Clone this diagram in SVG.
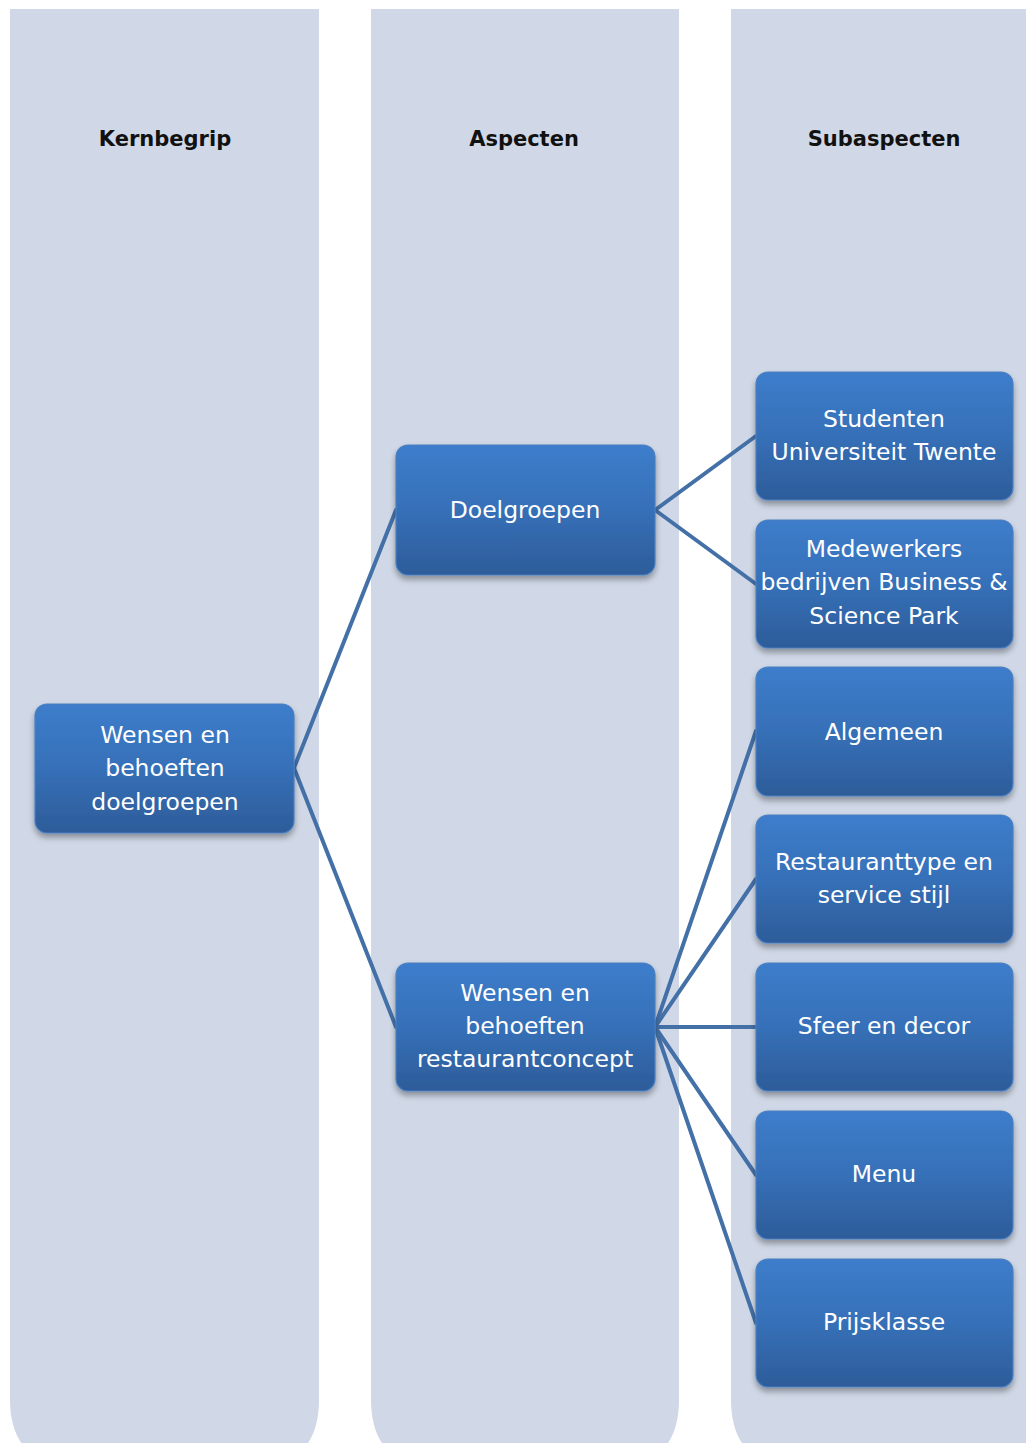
<svg xmlns="http://www.w3.org/2000/svg" width="1026" height="1443" viewBox="0 0 1026 1443">
  <style>
    .lane { fill: #d0d8e7; }
    .head { font-family: "DejaVu Sans", "Liberation Sans", sans-serif; font-size: 21px; font-weight: bold; fill: #111111; text-anchor: middle; }
    .box { fill: url(#boxFill); stroke: #4a7fc0; stroke-width: 1.2; filter: url(#drop); }
    .label { font-family: "DejaVu Sans", "Liberation Sans", sans-serif; font-size: 23.5px; fill: #ffffff; text-anchor: middle; }
    .link { stroke: #4470a8; stroke-width: 4; fill: none; stroke-linecap: round; }
  </style>
  <defs>
    <linearGradient id="boxFill" x1="0" y1="0" x2="0" y2="1">
      <stop offset="0" stop-color="#3d7dcb"/>
      <stop offset="0.5" stop-color="#3670b8"/>
      <stop offset="1" stop-color="#2d5c99"/>
    </linearGradient>
    <filter id="drop" x="-10%" y="-10%" width="120%" height="130%">
      <feGaussianBlur in="SourceAlpha" stdDeviation="3"/>
      <feOffset dx="0" dy="4"/>
      <feComponentTransfer><feFuncA type="linear" slope="0.35"/></feComponentTransfer>
      <feMerge><feMergeNode/><feMergeNode in="SourceGraphic"/></feMerge>
    </filter>
  </defs>

  <rect width="1026" height="1443" fill="#ffffff"/>

  <!-- swim lanes -->
  <g id="lanes">
    <path class="lane" d="M10 9 H319 V1400 Q319 1443 290 1460 H40 Q10 1443 10 1400 Z"/>
    <path class="lane" d="M371 9 H679 V1400 Q679 1443 650 1460 H400 Q371 1443 371 1400 Z"/>
    <path class="lane" d="M731 9 H1026 V1460 H760 Q731 1443 731 1400 Z"/>
    <text class="head" x="165" y="146">Kernbegrip</text>
    <text class="head" x="524" y="146">Aspecten</text>
    <text class="head" x="884" y="146">Subaspecten</text>
  </g>

  <!-- connectors -->
  <g id="connectors">
    <line class="link" x1="294" y1="768" x2="396" y2="510"/>
    <line class="link" x1="294" y1="768" x2="396" y2="1027"/>
    <line class="link" x1="655" y1="510" x2="756" y2="436"/>
    <line class="link" x1="655" y1="510" x2="756" y2="584"/>
    <line class="link" x1="655" y1="1027" x2="756" y2="731"/>
    <line class="link" x1="655" y1="1027" x2="756" y2="879"/>
    <line class="link" x1="655" y1="1027" x2="756" y2="1027"/>
    <line class="link" x1="655" y1="1027" x2="756" y2="1175"/>
    <line class="link" x1="655" y1="1027" x2="756" y2="1323"/>
  </g>

  <!-- nodes -->
  <g id="node-root">
    <rect class="box" x="35" y="704" width="259" height="129" rx="12"/>
    <text class="label" x="165" y="743">Wensen en</text>
    <text class="label" x="165" y="776">behoeften</text>
    <text class="label" x="165" y="810">doelgroepen</text>
  </g>
  <g id="node-doelgroepen">
    <rect class="box" x="396" y="445" width="259" height="130" rx="12"/>
    <text class="label" x="525" y="518">Doelgroepen</text>
  </g>
  <g id="node-restaurantconcept">
    <rect class="box" x="396" y="963" width="259" height="128" rx="12"/>
    <text class="label" x="525" y="1001">Wensen en</text>
    <text class="label" x="525" y="1034">behoeften</text>
    <text class="label" x="525" y="1067">restaurantconcept</text>
  </g>
  <g id="node-studenten">
    <rect class="box" x="756" y="372" width="257" height="128" rx="12"/>
    <text class="label" x="884" y="427">Studenten</text>
    <text class="label" x="884" y="460">Universiteit Twente</text>
  </g>
  <g id="node-medewerkers">
    <rect class="box" x="756" y="520" width="257" height="128" rx="12"/>
    <text class="label" x="884" y="557">Medewerkers</text>
    <text class="label" x="884" y="590">bedrijven Business &amp;</text>
    <text class="label" x="884" y="624">Science Park</text>
  </g>
  <g id="node-algemeen">
    <rect class="box" x="756" y="667" width="257" height="129" rx="12"/>
    <text class="label" x="884" y="740">Algemeen</text>
  </g>
  <g id="node-restauranttype">
    <rect class="box" x="756" y="815" width="257" height="128" rx="12"/>
    <text class="label" x="884" y="870">Restauranttype en</text>
    <text class="label" x="884" y="903">service stijl</text>
  </g>
  <g id="node-sfeer">
    <rect class="box" x="756" y="963" width="257" height="128" rx="12"/>
    <text class="label" x="884" y="1034">Sfeer en decor</text>
  </g>
  <g id="node-menu">
    <rect class="box" x="756" y="1111" width="257" height="128" rx="12"/>
    <text class="label" x="884" y="1182">Menu</text>
  </g>
  <g id="node-prijsklasse">
    <rect class="box" x="756" y="1259" width="257" height="128" rx="12"/>
    <text class="label" x="884" y="1330">Prijsklasse</text>
  </g>
</svg>
